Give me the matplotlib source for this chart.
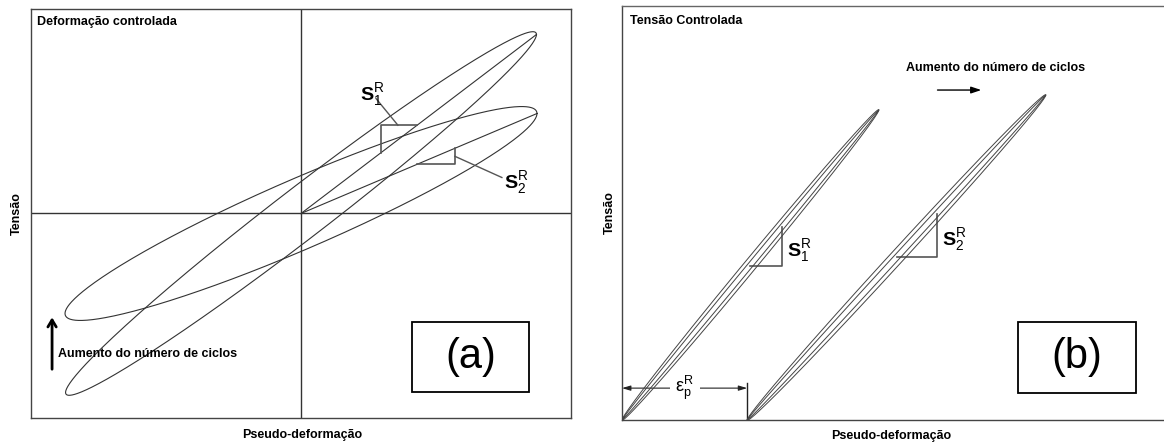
import numpy as np
import matplotlib.pyplot as plt
from matplotlib.patches import Rectangle

plt.rcParams['font.family'] = ['Liberation Sans', 'DejaVu Sans']
plt.rcParams['mathtext.fontset'] = 'custom'
plt.rcParams['mathtext.rm'] = 'Liberation Sans'
plt.rcParams['mathtext.it'] = 'Liberation Sans:italic'
plt.rcParams['mathtext.bf'] = 'Liberation Sans:bold'

# (a) deformação controlada - dois ciclos (1: inicial, 2: após N ciclos)
strain_amp = [0.872, 0.874]
stress_amp = [0.889, 0.523]
phase_deg = [10.1, 20.8]
tri_a_x = [(0.296, 0.430), (0.430, 0.570)]

# (b) tensão controlada - deslocamento dos laços (ratcheting)
strain_start = [0.0, 0.231]
strain_peak = [0.474, 0.782]
stress_peak = [0.749, 0.785]
loop_phase_deg = [1.5, 3.5]
tri_b_x = [(0.236, 0.295), (0.507, 0.581)]

LINE = '#333333'
BOLD = dict(fontsize=9, fontweight='bold')

fig = plt.figure(figsize=(11.64, 4.43), dpi=100)
ax1 = fig.add_axes([31/1164, 25/443, 540/1164, 409/443])
ax2 = fig.add_axes([622/1164, 23/443, 542/1164, 414/443])

t = np.linspace(0, 2*np.pi, 600)

# ---------- (a)
ax1.set_xlim(-1, 1)
ax1.set_ylim(-1, 1)
ax1.axhline(0, color=LINE, lw=1)
ax1.axvline(0, color=LINE, lw=1)
for A, B, ph in zip(strain_amp, stress_amp, phase_deg):
    p = np.radians(ph)
    ax1.plot(A*np.cos(t), B*np.cos(t - p), color=LINE, lw=0.8)
    ax1.plot([0, A], [0, B*np.cos(p)], color=LINE, lw=0.8)

slopes = [B*np.cos(np.radians(ph))/A for A, B, ph in zip(strain_amp, stress_amp, phase_deg)]
# triângulo S1 (ângulo reto em cima à esquerda)
xa, xb = tri_a_x[0]
s = slopes[0]
ax1.plot([xa, xa, xb], [s*xa, s*xb, s*xb], color='#555555', lw=1.2)
ax1.plot([0.278, 0.359], [0.562, s*xb], color='#555555', lw=1)
ax1.text(0.22, 0.58, r'$\mathbf{S}_{\mathrm{1}}^{\mathrm{R}}$', fontsize=14, va='center')
# triângulo S2 (ângulo reto embaixo à direita)
xa, xb = tri_a_x[1]
s = slopes[1]
ax1.plot([xa, xb, xb], [s*xa, s*xa, s*xb], color='#555555', lw=1.2)
ax1.plot([xb, 0.744], [s*(xa+xb)/2, 0.176], color='#555555', lw=1)
ax1.text(0.752, 0.15, r'$\mathbf{S}_{\mathrm{2}}^{\mathrm{R}}$', fontsize=14, va='center')

ax1.annotate('', xy=(-0.922, -0.494), xytext=(-0.922, -0.775),
             arrowprops=dict(arrowstyle='->, head_length=0.5, head_width=0.3',
                             color='black', lw=2))
ax1.text(-0.9, -0.685, 'Aumento do número de ciclos', va='center', **BOLD)
ax1.text(0.011, 0.968, 'Deformação controlada', transform=ax1.transAxes,
         va='center', **BOLD)
ax1.add_patch(Rectangle((0.706, 0.064), 0.216, 0.171, transform=ax1.transAxes,
                        fill=False, ec='black', lw=1.3))
ax1.text(0.814, 0.15, '(a)', transform=ax1.transAxes, fontsize=30,
         ha='center', va='center')

# ---------- (b)
ax2.set_xlim(0, 1)
ax2.set_ylim(0, 1)
for x0, x1, sp in zip(strain_start, strain_peak, stress_peak):
    xc, a = (x0 + x1)/2, (x1 - x0)/2
    yc = sp/2
    for ph in loop_phase_deg:
        p = np.radians(ph)
        b = yc/np.cos(p)
        ax2.plot(xc - a*np.cos(t), yc - b*np.cos(t - p), color='#444444', lw=0.7,
                 zorder=3)

for (xa, xb), x0, x1, sp, lab in zip(tri_b_x, strain_start, strain_peak,
                                     stress_peak, ['1', '2']):
    s = sp/(x1 - x0)
    ax2.plot([xa, xb, xb], [s*(xa-x0), s*(xa-x0), s*(xb-x0)], color='#555555', lw=1.2)
    ax2.text(xb + 0.01, (s*(xa-x0) + s*(xb-x0))/2 - 0.01,
             r'$\mathbf{S}_{\mathrm{%s}}^{\mathrm{R}}$' % lab, fontsize=14, va='center')

# deformação permanente acumulada
ax2.annotate('', xy=(0, 0.077), xytext=(strain_start[1], 0.077), zorder=1,
             arrowprops=dict(arrowstyle='<|-|>, head_length=0.5, head_width=0.15',
                             color='#222222', lw=0.8, shrinkA=0, shrinkB=0))
ax2.plot([strain_start[1]]*2, [0, 0.089], color='#222222', lw=1)
ax2.text(strain_start[1]/2, 0.077, r'$\mathrm{ε}_{\mathrm{p}}^{\mathrm{R}}$',
         fontsize=13, ha='center', va='center', zorder=2,
         bbox=dict(fc='white', ec='none', pad=4))

ax2.text(0.69, 0.85, 'Aumento do número de ciclos', ha='center', va='center', **BOLD)
ax2.annotate('', xy=(0.668, 0.797), xytext=(0.577, 0.797),
             arrowprops=dict(arrowstyle='-|>, head_length=0.6, head_width=0.2',
                             color='black', lw=1))
ax2.text(0.0148, 0.964, 'Tensão Controlada', transform=ax2.transAxes,
         va='center', **BOLD)
ax2.add_patch(Rectangle((0.731, 0.065), 0.217, 0.172, transform=ax2.transAxes,
                        fill=False, ec='black', lw=1.3))
ax2.text(0.839, 0.151, '(b)', transform=ax2.transAxes, fontsize=30,
         ha='center', va='center')

for ax in (ax1, ax2):
    ax.set_xticks([])
    ax.set_yticks([])
    ax.set_xlabel('Pseudo-deformação', va='center', **BOLD)
    ax.set_ylabel('Tensão', va='center', **BOLD)
    for sp in ax.spines.values():
        sp.set_color('#444444')
        sp.set_linewidth(1)
ax1.xaxis.set_label_coords(0.502, -0.042)
ax1.yaxis.set_label_coords(-0.026, 0.5)
ax2.xaxis.set_label_coords(0.496, -0.039)
ax2.yaxis.set_label_coords(-0.023, 0.5)
ax2.spines['right'].set_visible(False)
ax2.spines['top'].set_color('#666666')

fig.savefig('out.png', dpi=100)
